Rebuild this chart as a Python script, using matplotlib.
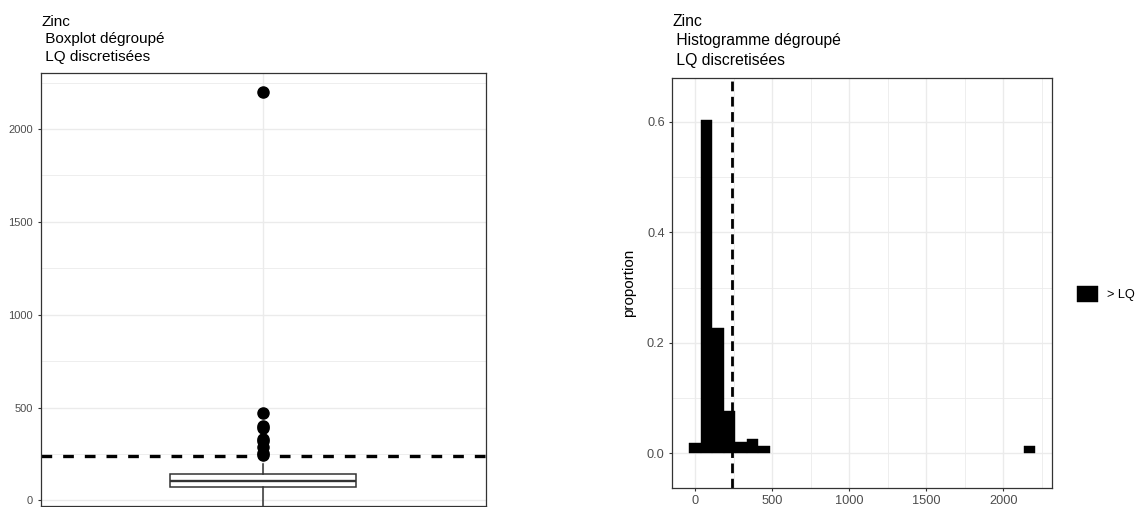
import matplotlib
matplotlib.use("Agg")
import matplotlib.pyplot as plt
from matplotlib.ticker import MultipleLocator, FormatStrFormatter, FixedLocator, NullFormatter

plt.rcParams["font.family"] = ["Liberation Sans", "DejaVu Sans"]
plt.rcParams["lines.scale_dashes"] = False

# ---------------- data ----------------
element = "Zinc"
title_box = "Zinc\n Boxplot dégroupé\n LQ discretisées"
title_hist = "Zinc\n Histogramme dégroupé\n LQ discretisées"
lq_threshold = 239

# boxplot statistics
box_q1 = 74
box_median = 103
box_q3 = 143
whisker_low = -30
whisker_high = 197
outliers = [2199, 469, 401, 390, 330, 318, 290, 257, 246]

# histogram (proportions per bin)
hist_bin_left = [-37.4, 37.4, 112.2, 187.0, 261.8, 336.6, 411.4, 2132.6]
hist_bin_width = 74.8
hist_proportion = [0.019, 0.603, 0.226, 0.076, 0.021, 0.026, 0.0127, 0.0127]
legend_label = "> LQ"
y_label = "proportion"

# ---------------- style ----------------
W, H = 1139, 507
GRID = "#EBEBEB"
DARK = "#333333"
TICKC = "#4D4D4D"

fig = plt.figure(figsize=(W / 100, H / 100), dpi=100)
fig.patch.set_facecolor("white")

ax1 = fig.add_axes([40.7 / W, 1 - 505.7 / H, 445 / W, (505.7 - 72.7) / H])
ax2 = fig.add_axes([672.3 / W, 1 - 487.7 / H, (1051.7 - 672.3) / W, (487.7 - 78.3) / H])


def style_axes(ax, fs):
    ax.set_axisbelow(True)
    for s in ax.spines.values():
        s.set_color(DARK)
        s.set_linewidth(0.9)
    ax.grid(True, which="major", color=GRID, linewidth=1.0)
    ax.grid(True, which="minor", color=GRID, linewidth=0.6)
    ax.tick_params(which="major", length=2.5, width=0.8, color=DARK,
                   labelcolor=TICKC, labelsize=fs, pad=3)
    ax.tick_params(which="minor", length=0)


# ---------------- left: boxplot ----------------
style_axes(ax1, 8)
stats = [{"med": box_median, "q1": box_q1, "q3": box_q3,
          "whislo": whisker_low, "whishi": whisker_high, "fliers": outliers}]
ax1.bxp(stats, positions=[1], widths=0.5, showcaps=False, patch_artist=True,
        boxprops=dict(facecolor="white", edgecolor=DARK, linewidth=1.1),
        medianprops=dict(color=DARK, linewidth=1.7),
        whiskerprops=dict(color=DARK, linewidth=1.1),
        flierprops=dict(marker="o", markerfacecolor="black",
                        markeredgecolor="black", markersize=8))
ax1.axhline(lq_threshold, color="black", linewidth=2.4, linestyle=(0, (7.7, 7.9)))
ax1.set_xlim(0.4, 1.6)
ax1.set_ylim(-28, 2303)
ax1.yaxis.set_major_locator(MultipleLocator(500))
ax1.yaxis.set_minor_locator(MultipleLocator(250))
ax1.xaxis.set_major_locator(FixedLocator([1]))
ax1.xaxis.set_major_formatter(NullFormatter())
ax1.tick_params(axis="x", length=0)
ax1.tick_params(axis="y", pad=3)

# ---------------- right: histogram ----------------
style_axes(ax2, 9.2)
ax2.bar(hist_bin_left, hist_proportion, width=hist_bin_width, align="edge",
        color="black", edgecolor="black", linewidth=0.3, label=legend_label)
ax2.axvline(lq_threshold, color="black", linewidth=2.0, linestyle=(0, (7, 4)))
ax2.set_xlim(-147, 2314)
ax2.set_ylim(-0.0623, 0.679)
ax2.xaxis.set_major_locator(MultipleLocator(500))
ax2.xaxis.set_minor_locator(MultipleLocator(250))
ax2.yaxis.set_major_locator(MultipleLocator(0.2))
ax2.yaxis.set_minor_locator(MultipleLocator(0.1))
ax2.yaxis.set_major_formatter(FormatStrFormatter("%.1f"))
ax2.xaxis.set_major_formatter(FormatStrFormatter("%d"))

fig.text(629 / W, 1 - 283 / H, y_label, rotation=90, ha="center", va="center",
         fontsize=11, color="black")

handles, labels = ax2.get_legend_handles_labels()
fig.legend(handles, labels, loc="center left",
           bbox_to_anchor=(1076.7 / W, 1 - 294 / H), frameon=False, fontsize=9.2,
           handlelength=1.65, handleheight=1.65, handletextpad=0.7,
           borderpad=0, borderaxespad=0)

# ---------------- titles ----------------
fig.text(41 / W, 1 - 61 / H, title_box, ha="left", va="baseline",
         fontsize=11, linespacing=1.34, color="black")
fig.text(672.3 / W, 1 - 65 / H, title_hist, ha="left", va="baseline",
         fontsize=11.3, linespacing=1.38, color="black")

fig.savefig("out.png", dpi=100, facecolor="white")
